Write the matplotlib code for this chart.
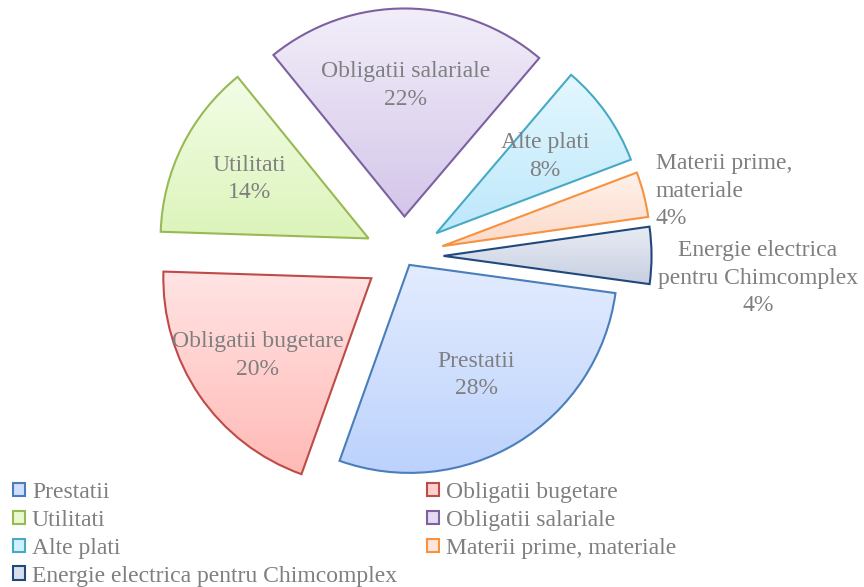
import numpy as np
import matplotlib
matplotlib.use('Agg')
import matplotlib.pyplot as plt
from matplotlib.patches import Patch
from matplotlib.colors import to_rgb

categories = ['Prestatii', 'Obligatii bugetare', 'Utilitati', 'Obligatii salariale',
              'Alte plati', 'Materii prime, materiale', 'Energie electrica pentru Chimcomplex']
shares = [28.2, 20.0, 13.6, 22.0, 8.0, 3.5, 4.4]
pie_labels = ['Prestatii', 'Obligatii bugetare', 'Utilitati', 'Obligatii salariale',
              'Alte plati', 'Materii prime,\nmateriale', 'Energie electrica\npentru Chimcomplex']

edge_colors = ['#4a7ebb', '#be4b48', '#98b954', '#7d60a0', '#46aac5', '#f69240', '#1f497d']
top_colors = ['#e3ecff', '#ffe4e4', '#f3fde6', '#f2eef9', '#e4f7fe', '#fff1eb', '#e9ecf4']
bot_colors = ['#bcd2fc', '#ffbab6', '#dcf4bb', '#d4c6ea', '#bde8fb', '#fcdac9', '#c7cfe1']
explode = [0.05, 0.19, 0.19, 0.19, 0.19, 0.19, 0.19]
# how far along each slice the inside labels sit
label_r = [0.62, 0.66, 0.64, 0.63, 0.64]

TEXT = '#7f7f7f'
FONT = 'Liberation Serif'
W, H = 864, 587
CX, CY, R = 404, 256, 208
LS = 1.4

fig = plt.figure(figsize=(W / 100, H / 100), dpi=100, facecolor='white')
ax = fig.add_axes([0, 0, 1, 1])

wedges, _ = ax.pie(shares, explode=explode, startangle=-7.8, counterclock=False,
                   radius=1, wedgeprops=dict(linewidth=1.5))

total = sum(shares)
for i, w in enumerate(wedges):
    w.set_facecolor('none')
    w.set_edgecolor(edge_colors[i])
    w.set_zorder(3)
    ext = w.get_path().get_extents()
    t = np.linspace(0, 1, 64)[:, None]
    grad = (1 - t) * np.array(to_rgb(top_colors[i])) + t * np.array(to_rgb(bot_colors[i]))
    grad = grad[:, None, :]
    im = ax.imshow(grad, extent=(ext.x0, ext.x1, ext.y0, ext.y1), origin='upper',
                   aspect='auto', interpolation='bilinear', zorder=2)
    im.set_clip_path(w)

    mid = np.deg2rad((w.theta1 + w.theta2) / 2)
    cx, cy = w.center
    pct = f'{shares[i] / total * 100:.0f}%'
    txt = pie_labels[i] + '\n' + pct
    if i < 5:
        ax.text(cx + label_r[i] * np.cos(mid), cy + label_r[i] * np.sin(mid), txt,
                ha='center', va='center', fontsize=17, family=FONT, color=TEXT,
                linespacing=LS, zorder=5)
    elif i == 5:
        ax.text(cx + 1.06 * np.cos(mid), cy + 1.06 * np.sin(mid), txt,
                ha='left', va='center', multialignment='left', fontsize=17,
                family=FONT, color=TEXT, linespacing=LS, zorder=5)
    else:
        ax.text(cx + 1.03 * np.cos(mid), cy + 1.03 * np.sin(mid) - 0.11, txt,
                ha='left', va='center', multialignment='center', fontsize=17,
                family=FONT, color=TEXT, linespacing=LS, zorder=5)

ax.set_xlim(-CX / R, (W - CX) / R)
ax.set_ylim(-(H - CY) / R, CY / R)
ax.set_aspect('equal')
ax.axis('off')

handles = []
for i in range(len(categories)):
    mixed = 0.5 * np.array(to_rgb(top_colors[i])) + 0.5 * np.array(to_rgb(bot_colors[i]))
    handles.append(Patch(facecolor=mixed, edgecolor=edge_colors[i], linewidth=1.5,
                         label=categories[i]))
order = [0, 2, 4, 6, 1, 3, 5]
leg = fig.legend([handles[k] for k in order], [categories[k] for k in order],
                 ncol=2, loc='upper left', bbox_to_anchor=(13 / W, 1 - 482 / H),
                 frameon=False, borderpad=0, borderaxespad=0,
                 handlelength=0.5, handleheight=0.5, handletextpad=0.3,
                 columnspacing=1.27, labelspacing=0.29,
                 prop={'family': FONT, 'size': 17})
for t in leg.get_texts():
    t.set_color(TEXT)

fig.savefig('out.png', dpi=100, facecolor='white')
